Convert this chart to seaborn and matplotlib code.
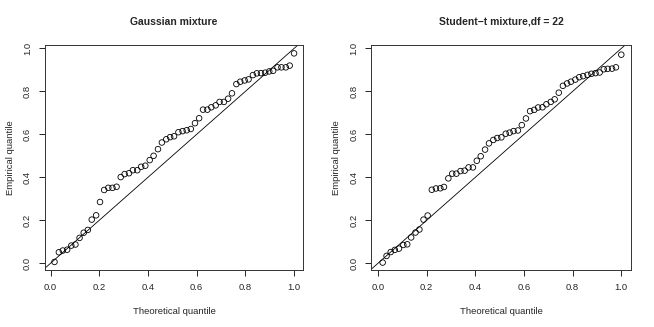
import numpy as np
import pandas as pd
import matplotlib
matplotlib.use("Agg")
import matplotlib.pyplot as plt
import seaborn as sns

# theoretical quantiles
theo_gauss = [0.016, 0.034, 0.050, 0.068, 0.085, 0.102, 0.119, 0.136, 0.153, 0.169,
              0.187, 0.203, 0.220, 0.237, 0.254, 0.271, 0.288, 0.304, 0.322, 0.338,
              0.356, 0.372, 0.389, 0.407, 0.423, 0.441, 0.457, 0.475, 0.491, 0.507,
              0.525, 0.542, 0.559, 0.576, 0.593, 0.610, 0.626, 0.644, 0.660, 0.678,
              0.694, 0.712, 0.729, 0.745, 0.763, 0.779, 0.797, 0.813, 0.831, 0.847,
              0.864, 0.881, 0.898, 0.914, 0.932, 0.948, 0.966, 0.982, 1.000]
emp_gauss = [0.006, 0.051, 0.059, 0.063, 0.082, 0.087, 0.118, 0.142, 0.155, 0.203,
             0.223, 0.285, 0.341, 0.351, 0.351, 0.356, 0.401, 0.415, 0.419, 0.433,
             0.433, 0.449, 0.454, 0.480, 0.500, 0.531, 0.562, 0.577, 0.587, 0.591,
             0.610, 0.615, 0.619, 0.625, 0.652, 0.675, 0.715, 0.715, 0.726, 0.735,
             0.751, 0.751, 0.766, 0.791, 0.834, 0.845, 0.851, 0.856, 0.876, 0.884,
             0.885, 0.887, 0.893, 0.896, 0.912, 0.912, 0.912, 0.920, 0.977]

theo_t = [0.019, 0.035, 0.052, 0.069, 0.086, 0.104, 0.120, 0.136, 0.154, 0.170,
          0.187, 0.204, 0.221, 0.238, 0.256, 0.271, 0.289, 0.305, 0.322, 0.339,
          0.356, 0.372, 0.390, 0.406, 0.422, 0.440, 0.456, 0.474, 0.490, 0.507,
          0.525, 0.541, 0.557, 0.575, 0.591, 0.608, 0.625, 0.642, 0.658, 0.676,
          0.692, 0.710, 0.726, 0.743, 0.760, 0.777, 0.793, 0.811, 0.827, 0.843,
          0.861, 0.877, 0.894, 0.911, 0.928, 0.944, 0.962, 0.978, 1.000]
emp_t = [0.003, 0.034, 0.052, 0.062, 0.068, 0.085, 0.088, 0.120, 0.143, 0.157,
         0.203, 0.222, 0.342, 0.348, 0.349, 0.355, 0.395, 0.417, 0.417, 0.429,
         0.431, 0.446, 0.446, 0.477, 0.498, 0.529, 0.558, 0.574, 0.583, 0.586,
         0.603, 0.608, 0.615, 0.618, 0.643, 0.674, 0.708, 0.714, 0.725, 0.726,
         0.740, 0.751, 0.763, 0.794, 0.826, 0.837, 0.845, 0.855, 0.866, 0.871,
         0.877, 0.882, 0.885, 0.888, 0.903, 0.905, 0.906, 0.912, 0.971]

titles = ["Gaussian mixture", "Student\u2212t mixture,df = 22"]
ticks = [0.0, 0.2, 0.4, 0.6, 0.8, 1.0]
tick_labels = ["0.0", "0.2", "0.4", "0.6", "0.8", "1.0"]

sns.set_theme(style="white")
plt.rcParams['font.family'] = ['Liberation Sans', 'DejaVu Sans']

fig = plt.figure(figsize=(6.54, 3.27), dpi=100)
ax1 = fig.add_axes([0.0688, 0.1734, 0.395, 0.689])
ax2 = fig.add_axes([0.568, 0.1734, 0.3965, 0.689])

panels = [(ax1, theo_gauss, emp_gauss, (-0.023, 1.038), (-0.033, 1.016)),
          (ax2, theo_t, emp_t, (-0.027, 1.039), (-0.033, 1.016))]

for (ax, x, y, xl, yl), title in zip(panels, titles):
    df = pd.DataFrame({'theo': x, 'emp': y})
    sns.scatterplot(data=df, x='theo', y='emp', ax=ax, marker='o', s=16,
                    facecolor='none', edgecolor='black', linewidth=0.6)
    ax.axline((0, 0), slope=1, color='black', linewidth=0.6)
    ax.set_xlim(*xl)
    ax.set_ylim(*yl)
    ax.set_xticks(ticks)
    ax.set_xticklabels(tick_labels)
    ax.set_yticks(ticks)
    ax.set_yticklabels(tick_labels, rotation=90, va='center')
    ax.tick_params(axis='both', direction='out', length=4.3, width=0.6,
                   color='black', labelsize=6.8, pad=5, bottom=True, left=True)
    for sp in ax.spines.values():
        sp.set_color('#333333')
        sp.set_linewidth(0.7)
    ax.set_title(title, fontsize=7.5, fontweight='bold', pad=14.5)
    ax.set_xlabel('Theoretical quantile', fontsize=6.8, labelpad=11)
    ax.set_ylabel('Empirical quantile', fontsize=6.8, labelpad=6)

fig.savefig('out.png', dpi=100)
